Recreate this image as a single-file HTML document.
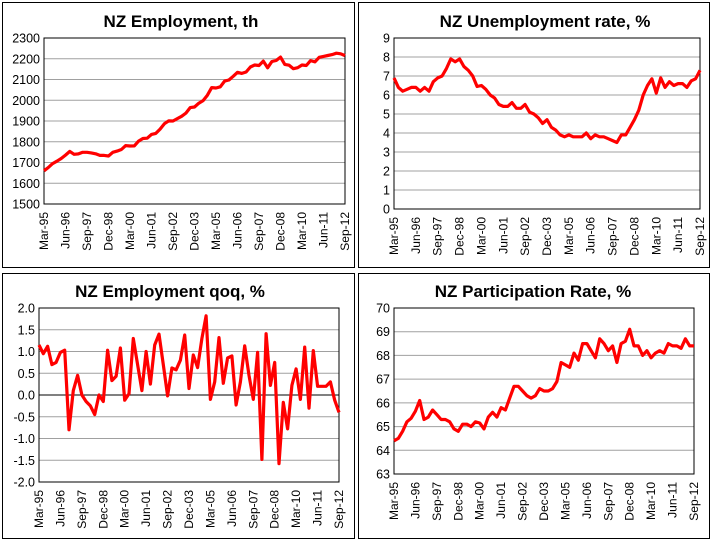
<!DOCTYPE html>
<html><head><meta charset="utf-8"><style>
html,body{margin:0;padding:0;background:#fff;}
svg{display:block;}
text{font-family:"Liberation Sans",sans-serif;}
</style></head><body>
<svg id="s" width="712" height="541" xmlns="http://www.w3.org/2000/svg"></svg>
<script>
var q=[1.15,0.95,1.12,0.7,0.75,0.98,1.03,-0.8,0.1,0.45,0.0,-0.15,-0.25,-0.45,0.0,-0.15,1.03,0.33,0.43,1.08,-0.12,0.03,1.3,0.7,0.1,1.0,0.25,1.15,1.4,0.7,-0.02,0.62,0.58,0.8,1.38,0.15,0.92,0.63,1.3,1.82,-0.1,0.3,1.32,0.27,0.85,0.9,-0.23,0.3,1.13,0.45,-0.1,0.98,-1.48,1.41,0.22,0.75,-1.58,-0.17,-0.78,0.22,0.6,-0.1,1.1,-0.3,1.02,0.2,0.2,0.2,0.3,-0.12,-0.4];
var u=[6.9,6.4,6.2,6.3,6.4,6.4,6.2,6.4,6.2,6.7,6.9,7.0,7.4,7.9,7.75,7.9,7.5,7.3,7.0,6.45,6.5,6.3,6.0,5.85,5.5,5.4,5.4,5.6,5.3,5.3,5.5,5.1,5.0,4.8,4.5,4.7,4.3,4.15,3.9,3.8,3.9,3.8,3.8,3.8,4.0,3.7,3.9,3.8,3.8,3.7,3.6,3.5,3.9,3.9,4.3,4.7,5.2,6.0,6.5,6.85,6.1,6.9,6.4,6.7,6.5,6.6,6.6,6.4,6.75,6.85,7.3];
var p=[64.4,64.5,64.8,65.2,65.35,65.65,66.1,65.3,65.4,65.7,65.5,65.3,65.3,65.2,64.9,64.8,65.1,65.1,65.0,65.2,65.15,64.9,65.4,65.6,65.4,65.8,65.7,66.2,66.7,66.7,66.5,66.3,66.2,66.3,66.6,66.5,66.5,66.6,66.9,67.7,67.6,67.5,68.1,67.8,68.5,68.5,68.2,67.9,68.7,68.5,68.2,68.4,67.7,68.5,68.6,69.1,68.4,68.4,68.0,68.2,67.9,68.1,68.2,68.1,68.5,68.4,68.4,68.3,68.7,68.4,68.4];
var e=[1660],v=1660;
for(var i=1;i<71;i++){v*=1+q[i]/100;e.push(v);}
var f=2215/e[70];for(i=0;i<71;i++)e[i]=e[i]*Math.pow(f,i/70);
var labs=["Mar-95","Jun-96","Sep-97","Dec-98","Mar-00","Jun-01","Sep-02","Dec-03","Mar-05","Jun-06","Sep-07","Dec-08","Mar-10","Jun-11","Sep-12"];
var S='';
function panel(bx,by,bw,bh,title,tx,ty,px0,px1,py0,py1,vmin,vmax,step,dec,data,zero){
 S+='<rect x="'+(bx+.5)+'" y="'+(by+.5)+'" width="'+bw+'" height="'+bh+'" fill="#fff" stroke="#000" stroke-width="1"/>';
 S+='<text x="'+tx+'" y="'+ty+'" font-size="17" font-weight="bold" text-anchor="middle">'+title+'</text>';
 var n=Math.round((vmax-vmin)/step);
 for(var k=0;k<=n;k++){var val=vmin+k*step;var y=py1-(py1-py0)*k/n;
  if(k>0&&k<n)S+='<line x1="'+px0+'" x2="'+px1+'" y1="'+y+'" y2="'+y+'" stroke="'+(zero&&Math.abs(val)<1e-9?'#000':'#a0a0a0')+'" stroke-width="1"/>';
  S+='<text x="'+(px0-4)+'" y="'+(y+4.5)+'" font-size="12.5" text-anchor="end">'+val.toFixed(dec)+'</text>';}
 S+='<rect x="'+px0+'" y="'+py0+'" width="'+(px1-px0)+'" height="'+(py1-py0)+'" fill="none" stroke="#000" stroke-width="1"/>';
 var sx=(px1-px0)/70,pts=[];
 for(var i=0;i<71;i++){var x=px0+i*sx;var y=py1-(data[i]-vmin)/(vmax-vmin)*(py1-py0);pts.push(x.toFixed(1)+','+y.toFixed(1));}
 S+='<polyline points="'+pts.join(' ')+'" fill="none" stroke="#ff0000" stroke-width="3.2" stroke-linejoin="round"/>';
 for(var j=0;j<15;j++){var x=px0+j*5*sx+4;var y=py1+8;
  S+='<text transform="translate('+x.toFixed(1)+','+y+') rotate(-90)" font-size="12" text-anchor="end">'+labs[j]+'</text>';}
}
panel(2,2,352,265,'NZ Employment, th',181,27,44,345,38,204,1500,2300,100,0,e,false);
panel(358,2,351,265,'NZ Unemployment rate, %',545,27,394,700,38,209,0,9,1,0,u,false);
panel(2,273,352,265,'NZ Employment qoq, %',170,297,39,339,308,482,-2,2,0.5,1,q,true);
panel(358,273,351,265,'NZ Participation Rate, %',533,297,394,694,308,474,63,70,1,0,p,false);
document.getElementById('s').innerHTML=S;
</script>
</body></html>
